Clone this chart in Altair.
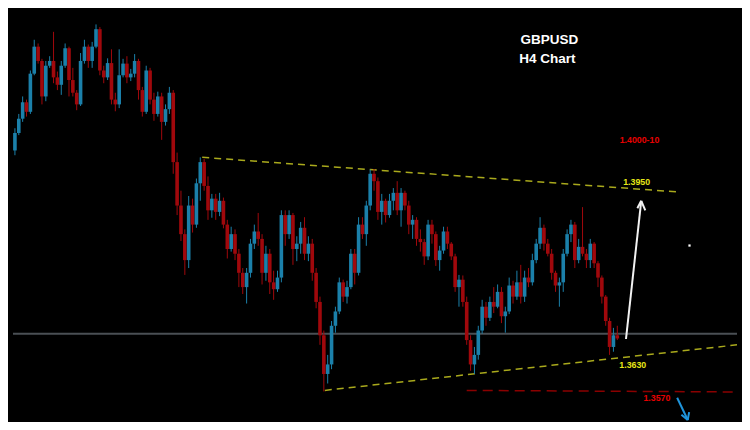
import altair as alt
import pandas as pd

# ---- GBPUSD H4 candles (prices in pips, /10000) ----
open_first = 14021
close = [
    14054, 14081, 14112, 14094, 14166, 14217, 14190, 14123, 14181, 14190,
    14159, 14145, 14181, 14214, 14154, 14130, 14108, 14190, 14217, 14190,
    14217, 14250, 14172, 14159, 14186, 14117, 14108, 14163, 14185, 14159,
    14166, 14190, 14135, 14094, 14172, 14117, 14090, 14123, 14075, 14099,
    14130, 13999, 13917, 13863, 13814, 13917, 13881, 13959, 13999, 13954,
    13908, 13930, 13905, 13926, 13881, 13835, 13863, 13826, 13790, 13763,
    13790, 13845, 13868, 13854, 13790, 13826, 13772, 13759, 13781, 13899,
    13863, 13899, 13835, 13845, 13875, 13826, 13845, 13790, 13735, 13672,
    13599, 13617, 13690, 13717, 13772, 13745, 13763, 13826, 13790, 13881,
    13863, 13917, 13977, 13963, 13905, 13926, 13899, 13926, 13941, 13908,
    13941, 13917, 13881, 13890, 13854, 13848, 13821, 13881, 13863, 13814,
    13832, 13868, 13845, 13821, 13763, 13777, 13735, 13663, 13617, 13635,
    13681, 13726, 13705, 13735, 13726, 13754, 13708, 13717, 13766, 13745,
    13772, 13745, 13781, 13772, 13814, 13845, 13875, 13845, 13826, 13790,
    13766, 13772, 13826, 13863, 13881, 13814, 13839, 13826, 13814, 13845,
    13808, 13781, 13745, 13699, 13650, 13672, 13666,
]
high = [
    14063, 14090, 14123, 14117, 14172, 14230, 14223, 14194, 14190, 14199,
    14245, 14170, 14190, 14223, 14217, 14177, 14135, 14205, 14230, 14221,
    14226, 14259, 14254, 14181, 14195, 14212, 14130, 14212, 14194, 14199,
    14175, 14203, 14194, 14141, 14181, 14177, 14130, 14132, 14130, 14108,
    14141, 14135, 14017, 13945, 13872, 13935, 13930, 13968, 14008, 14005,
    13972, 13939, 13939, 13941, 13932, 13890, 13877, 13872, 13835, 13799,
    13799, 13854, 13881, 13903, 13863, 13841, 13835, 13794, 13794, 13908,
    13908, 13908, 13903, 13859, 13886, 13895, 13859, 13854, 13799, 13745,
    13681, 13635, 13699, 13726, 13781, 13777, 13775, 13835, 13835, 13895,
    13895, 13926, 13985, 13986, 13970, 13939, 13930, 13939, 13950, 13963,
    13950, 13945, 13926, 13899, 13895, 13872, 13854, 13890, 13890, 13868,
    13841, 13877, 13877, 13848, 13826, 13786, 13785, 13745, 13672, 13650,
    13690, 13739, 13735, 13745, 13763, 13768, 13763, 13726, 13781, 13775,
    13794, 13805, 13794, 13799, 13826, 13854, 13895, 13881, 13854, 13835,
    13794, 13781, 13835, 13872, 13890, 13886, 13854, 13914, 13835, 13854,
    13848, 13812, 13785, 13748, 13705, 13686, 13690,
]
low = [
    14012, 14050, 14075, 14085, 14090, 14163, 14185, 14108, 14114, 14177,
    14148, 14135, 14126, 14177, 14123, 14123, 14097, 14105, 14185, 14177,
    14177, 14214, 14163, 14148, 14154, 14108, 14095, 14101, 14159, 14148,
    14152, 14159, 14117, 14085, 14090, 14108, 14077, 14085, 14041, 14068,
    14090, 13977, 13899, 13850, 13786, 13799, 13866, 13875, 13926, 13945,
    13890, 13894, 13890, 13897, 13874, 13817, 13830, 13814, 13763, 13750,
    13732, 13781, 13835, 13841, 13768, 13775, 13750, 13739, 13754, 13772,
    13841, 13854, 13805, 13812, 13826, 13814, 13812, 13775, 13723, 13654,
    13566, 13581, 13608, 13677, 13712, 13735, 13732, 13759, 13768, 13785,
    13854, 13841, 13908, 13945, 13890, 13881, 13885, 13894, 13908, 13899,
    13877, 13908, 13863, 13854, 13841, 13830, 13805, 13814, 13845, 13803,
    13794, 13826, 13835, 13814, 13754, 13726, 13726, 13654, 13605, 13599,
    13626, 13675, 13690, 13699, 13714, 13723, 13695, 13677, 13712, 13732,
    13739, 13732, 13735, 13763, 13766, 13808, 13835, 13832, 13821, 13777,
    13754, 13726, 13754, 13821, 13848, 13799, 13808, 13821, 13799, 13799,
    13799, 13763, 13732, 13690, 13635, 13641, 13663,
]

# ---- annotation levels ----
upper_trend = [(48.5, 1.4008), (171.25, 1.3943)]
lower_trend = [(80.25, 1.3568), (187.0, 1.3654)]
support_red = [(117.0, 1.3568), (187.0, 1.3565)]
grey_level = 1.3675
white_arrow = [(158.25, 1.3665), (162.2, 1.3926)]
white_wings = [(161.2, 1.3912), (163.25, 1.3908)]
blue_arrow = [(171.5, 1.3554), (174.25, 1.3512)]
blue_wings = [(172.6, 1.3522), (174.6, 1.3527)]
white_dot = (174.7, 1.38415)

titles = ["GBPUSD", "H4 Chart"]
title_pos = [(138.4, 1.4230), (137.9, 1.4193)]
level_labels = ["1.4000-10", "1.3950", "1.3630", "1.3570"]
level_pos = [(161.75, 1.40415), (161.0, 1.39615), (160.0, 1.3616), (166.25, 1.3554)]
level_colors = ["#e80000", "#e6e617", "#e6e617", "#e80000"]

X_DOM = [-0.5, 187.0]
Y_DOM = [1.35083, 1.4290]
BLUE = "#1b80aa"
RED = "#a0080c"

opens = [open_first] + close[:-1]
df = pd.DataFrame({
    "i": list(range(len(close))),
    "open": [v / 10000 for v in opens],
    "close": [v / 10000 for v in close],
    "high": [v / 10000 for v in high],
    "low": [v / 10000 for v in low],
})
df["dir"] = ["up" if c >= o else "down" for o, c in zip(df["open"], df["close"])]

xs = alt.Scale(domain=X_DOM, nice=False, zero=False)
ys = alt.Scale(domain=Y_DOM, nice=False, zero=False)
col = alt.Color("dir:N", scale=alt.Scale(domain=["up", "down"], range=[BLUE, RED]), legend=None)

base = alt.Chart(df)
wicks = base.mark_rule(strokeWidth=1).encode(
    x=alt.X("i:Q", scale=xs, axis=None),
    y=alt.Y("low:Q", scale=ys, axis=None),
    y2="high:Q",
    color=col,
)
bodies = base.mark_bar(size=3.6).encode(
    x=alt.X("i:Q", scale=xs, axis=None),
    y=alt.Y("open:Q", scale=ys, axis=None),
    y2="close:Q",
    color=col,
)


def seg(points, color, width, dash=None):
    d = pd.DataFrame({"x": [points[0][0]], "x2": [points[1][0]],
                      "y": [points[0][1]], "y2": [points[1][1]]})
    kw = dict(color=color, strokeWidth=width)
    if dash:
        kw["strokeDash"] = dash
    return alt.Chart(d).mark_rule(**kw).encode(
        x=alt.X("x:Q", scale=xs, axis=None), x2="x2:Q",
        y=alt.Y("y:Q", scale=ys, axis=None), y2="y2:Q",
    )


grey = seg([(X_DOM[0], grey_level), (X_DOM[1], grey_level)], "#4a4f54", 2)
up_line = seg(upper_trend, "#a9a91c", 1.5, [7, 5])
lo_line = seg(lower_trend, "#a9a91c", 1.5, [7, 5])
red_line = seg(support_red, "#8a0000", 1.5, [10, 6])
w_arrow = seg(white_arrow, "#f2f2f2", 2)
w_w1 = seg([white_arrow[1], white_wings[0]], "#f2f2f2", 2)
w_w2 = seg([white_arrow[1], white_wings[1]], "#f2f2f2", 2)
b_arrow = seg(blue_arrow, "#1f95dc", 2)
b_w1 = seg([blue_arrow[1], blue_wings[0]], "#1f95dc", 2)
b_w2 = seg([blue_arrow[1], blue_wings[1]], "#1f95dc", 2)

dot = alt.Chart(pd.DataFrame({"x": [white_dot[0]], "y": [white_dot[1]]})).mark_square(
    size=5, color="#ffffff", opacity=1
).encode(x=alt.X("x:Q", scale=xs, axis=None), y=alt.Y("y:Q", scale=ys, axis=None))

tdf = pd.DataFrame({"x": [p[0] for p in title_pos], "y": [p[1] for p in title_pos], "t": titles})
title_text = alt.Chart(tdf).mark_text(
    font="Liberation Sans", fontWeight="bold", fontSize=13.5, color="#ffffff", align="center", baseline="middle"
).encode(x=alt.X("x:Q", scale=xs, axis=None), y=alt.Y("y:Q", scale=ys, axis=None), text="t:N")

ldf = pd.DataFrame({"x": [p[0] for p in level_pos], "y": [p[1] for p in level_pos],
                    "t": level_labels, "c": level_colors})
level_text = alt.Chart(ldf).mark_text(
    font="Liberation Sans", fontWeight="bold", fontSize=8.8, align="center", baseline="middle"
).encode(x=alt.X("x:Q", scale=xs, axis=None), y=alt.Y("y:Q", scale=ys, axis=None),
         text="t:N", color=alt.Color("c:N", scale=None))

chart = alt.layer(
    grey, up_line, lo_line, red_line, wicks, bodies,
    w_arrow, w_w1, w_w2, b_arrow, b_w1, b_w2, dot, title_text, level_text,
).properties(
    width=734, height=414, padding=0,
    autosize=alt.AutoSizeParams(type="fit", contains="padding"),
    background="#000000",
).configure_view(stroke=None)

chart.save("out.html", embed_options={"renderer": "svg", "actions": False})
